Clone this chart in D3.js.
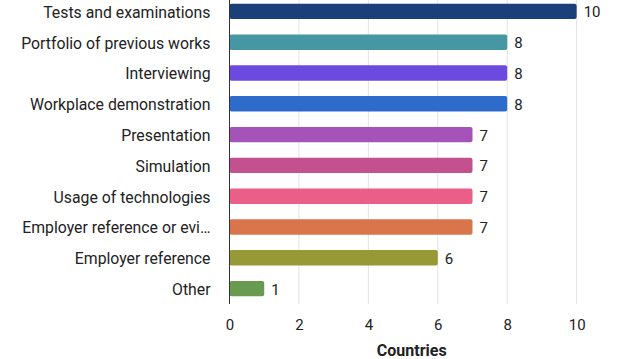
<!DOCTYPE html>
<html>
<head>
<meta charset="utf-8">
<script src="https://cdn.jsdelivr.net/npm/d3@7"></script>
<style>
  body { margin: 0; background: #fff; }
  svg text { font-family: Roboto, "Noto Sans", sans-serif; fill: #222; }
</style>
</head>
<body>
<div class="chart"></div>
<script>

const categories = [
	"Tests and examinations",
	"Portfolio of previous works",
	"Interviewing",
	"Workplace demonstration",
	"Presentation",
	"Simulation",
	"Usage of technologies",
	"Employer reference or evi\u2026",
	"Employer reference",
	"Other"
];
const values = [10, 8, 8, 8, 7, 7, 7, 7, 6, 1];
const colors = ["#1b3f7b", "#4597a4", "#6c4ae0", "#2e6bcb", "#a553b8", "#c35190", "#eb5e87", "#d8754a", "#979937", "#689b50"];
const xTicks = [0, 2, 4, 6, 8, 10];

const width = 626;
const height = 359;
const margin = { left: 229.5, right: 32, top: -4, bottom: 55 };

const svg = d3.select(".chart").append("svg")
				.attr("width", width)
				.attr("height", height);

const x = d3.scaleLinear()
			.domain([0, 10.5])
			.range([margin.left, width - margin.right]);

const y = d3.scaleBand()
			.domain(categories)
			.range([margin.top, height - margin.bottom])
			.paddingInner(0.5)
			.paddingOuter(0.25);

// grid
svg.append("g")
	.selectAll("line")
		.data(xTicks.slice(1)).enter()
	.append("line")
		.attr("x1", (d) => x(d))
		.attr("x2", (d) => x(d))
		.attr("y1", 0)
		.attr("y2", height - margin.bottom)
		.attr("stroke", "#e2e2e2")
		.attr("stroke-width", 1);

svg.append("g")
	.selectAll("rect")
		.data(values).enter()
	.append("rect")
		.attr("x", x(0))
		.attr("y", (d, i) => y(categories[i]))
		.attr("width", (d) => x(d) - x(0))
		.attr("height", y.bandwidth())
		.attr("rx", 2)
		.attr("fill", (d, i) => colors[i]);

// value labels
svg.append("g")
	.selectAll("text")
		.data(values).enter()
	.append("text")
		.attr("x", (d) => x(d) + 7)
		.attr("y", (d, i) => y(categories[i]) + y.bandwidth() / 2)
		.attr("dy", "0.4em")
		.style("font-size", "15px")
		.text((d) => d);

// y axis
const yAxis = svg.append("g")
	.attr("transform", `translate(${x(0)},0)`)
	.call(d3.axisLeft(y).tickSize(0).tickPadding(19));
yAxis.select(".domain").attr("stroke", "#333").attr("d", `M0,0V${height - margin.bottom}`);
yAxis.selectAll("text").style("font-size", "15.8px").attr("fill", "#222").attr("dy", "0.4em");

// x axis
const xAxis = svg.append("g")
	.attr("transform", `translate(0,${height - margin.bottom})`)
	.call(d3.axisBottom(x).tickValues(xTicks).tickSize(0).tickPadding(15));
xAxis.select(".domain").remove();
xAxis.selectAll("text").style("font-size", "15px").attr("fill", "#222");

svg.append("text")
	.attr("x", (x.range()[0] + x.range()[1]) / 2)
	.attr("y", 356)
	.attr("text-anchor", "middle")
	.style("font-size", "16px")
	.style("font-weight", "bold")
	.text("Countries");

</script>
</body>
</html>
